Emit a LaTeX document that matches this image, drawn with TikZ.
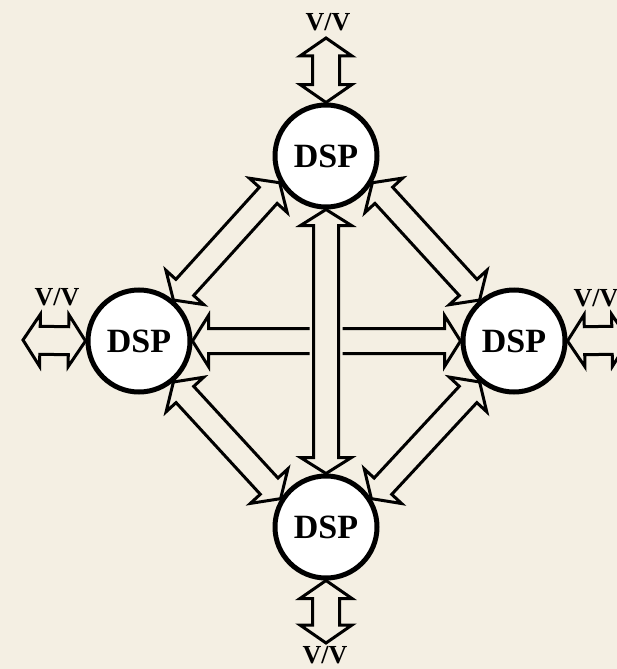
\documentclass[tikz,border=0pt]{standalone}
\usepackage{fontspec}
\setmainfont{Liberation Serif}
\usetikzlibrary{calc}
\definecolor{paper}{RGB}{244,239,227}
\tikzset{
  dsp/.style={circle, draw=black, line width=5pt, fill=white,
    minimum size=102pt, inner sep=0pt,
    font=\fontsize{34}{34}\selectfont\bfseries},
  vlabel/.style={inner sep=0pt, font=\fontsize{26}{26}\selectfont\bfseries},
  blockarrow/.style={draw=black, line width=3pt, fill=paper, line join=miter},
  halo/.style={draw=paper, fill=paper, line width=8pt},
}
% Hollow two-headed block arrow from #2 to #3:
% #4 shaft half-width, #5 head half-width, #6 head length
\newcommand\dblarrow[6][]{%
  \path[blockarrow,#1] (#2)
    -- ($(#2)!#6!(#3)!#5!90:(#3)$)
    -- ($(#2)!#6!(#3)!#4!90:(#3)$)
    -- ($(#3)!#6!(#2)!#4!-90:(#2)$)
    -- ($(#3)!#6!(#2)!#5!-90:(#2)$)
    -- (#3)
    -- ($(#3)!#6!(#2)!#5!90:(#2)$)
    -- ($(#3)!#6!(#2)!#4!90:(#2)$)
    -- ($(#2)!#6!(#3)!#4!-90:(#3)$)
    -- ($(#2)!#6!(#3)!#5!-90:(#3)$)
    -- cycle;}
\begin{document}
\begin{tikzpicture}[x=1pt,y=-1pt]
  \fill[paper] (0,0) rectangle (617,669);
  \clip (0,0) rectangle (617,669);
  \useasboundingbox (0,0) rectangle (617,669);

  % processor positions (the visible nodes are drawn last, over the links)
  \path node[dsp, draw=none, fill=none] (T) at (326,156) {}
        node[dsp, draw=none, fill=none] (L) at (139,341) {}
        node[dsp, draw=none, fill=none] (R) at (514,341) {}
        node[dsp, draw=none, fill=none] (B) at (326,527) {};

  % outer link ends
  \coordinate (topend) at (326,38);
  \coordinate (botend) at (326,643);
  \coordinate (leftend) at (23,340);
  \coordinate (rightend) at (629,340);

  % inner links
  \dblarrow{L.east}{R.west}{12.5pt}{25.5pt}{16pt}
  \dblarrow[halo]{T.south}{B.north}{12.5pt}{25.5pt}{16pt}
  \dblarrow{T.south}{B.north}{12.5pt}{25.5pt}{16pt}
  \dblarrow{T.210}{L.50}{12pt}{25.5pt}{17pt}
  \dblarrow{T.330}{R.130}{12pt}{25.5pt}{17pt}
  \dblarrow{B.148}{L.310}{12pt}{25.5pt}{17pt}
  \dblarrow{B.32}{R.230}{12pt}{25.5pt}{17pt}

  % outer links
  \dblarrow{topend}{T.north}{13.5pt}{26pt}{18pt}
  \dblarrow{B.south}{botend}{13.5pt}{26pt}{18pt}
  \dblarrow{leftend}{L.west}{14pt}{26pt}{17pt}
  \dblarrow{R.east}{rightend}{14pt}{26pt}{17pt}

  % processors
  \node[dsp] (T2) at (T) {DSP};
  \node[dsp] (L2) at (L) {DSP};
  \node[dsp] (R2) at (R) {DSP};
  \node[dsp] (B2) at (B) {DSP};

  % port labels
  \node[vlabel] (vt) at (328,22) {V/V};
  \node[vlabel] (vb) at (325,655) {V/V};
  \node[vlabel] (vl) at (57,297) {V/V};
  \node[vlabel] (vr) at (596,298) {V/V};
\end{tikzpicture}
\end{document}
